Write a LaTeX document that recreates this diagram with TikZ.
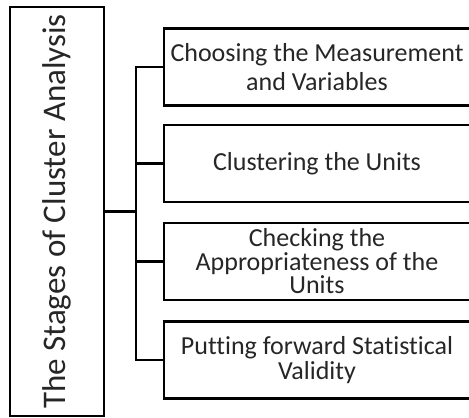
\documentclass[tikz,border=0pt]{standalone}
\usepackage{fontspec}
\setmainfont{Carlito}[Ligatures=NoCommon]
\usepackage{tikz}
\usetikzlibrary{positioning,calc}

\begin{document}
\begin{tikzpicture}[x=1pt,y=-1pt,line width=2.2pt,
    every node/.style={text=black!85}]
    \tikzstyle{stage}=[draw=black,minimum width=306pt,minimum height=77pt,
      inner sep=0pt,align=center,font=\fontsize{26}{29}\selectfont]
    \tikzstyle{heading}=[draw=black,minimum width=94pt,minimum height=409pt,
      inner sep=0pt,font=\fontsize{33}{38}\selectfont]
    \useasboundingbox (0,0) rectangle (469,418);

    \node[heading] (title) at (57,211.5)
    {\rotatebox{90}{The Stages of Cluster Analysis}};

    \node[stage] (choose) at (317,67) {Choosing the Measurement\\and Variables};
    \node[stage] (cluster) at (317,163.5) {Clustering the Units};
    \node[stage,font=\fontsize{26}{23.5}\selectfont] (check) at (317,261.5)
    {Checking the\\Appropriateness of the\\Units};
    \node[stage,font=\fontsize{26}{25}\selectfont] (valid) at (317,360)
    {Putting forward Statistical\\Validity};

    \coordinate (trunk) at ($(title.east)+(31,0)$);
    \draw (title.east) -- (trunk);
    \foreach \s in {choose,cluster,check,valid}
      \draw (\s.west) -| (trunk);

\end{tikzpicture}
\end{document}
